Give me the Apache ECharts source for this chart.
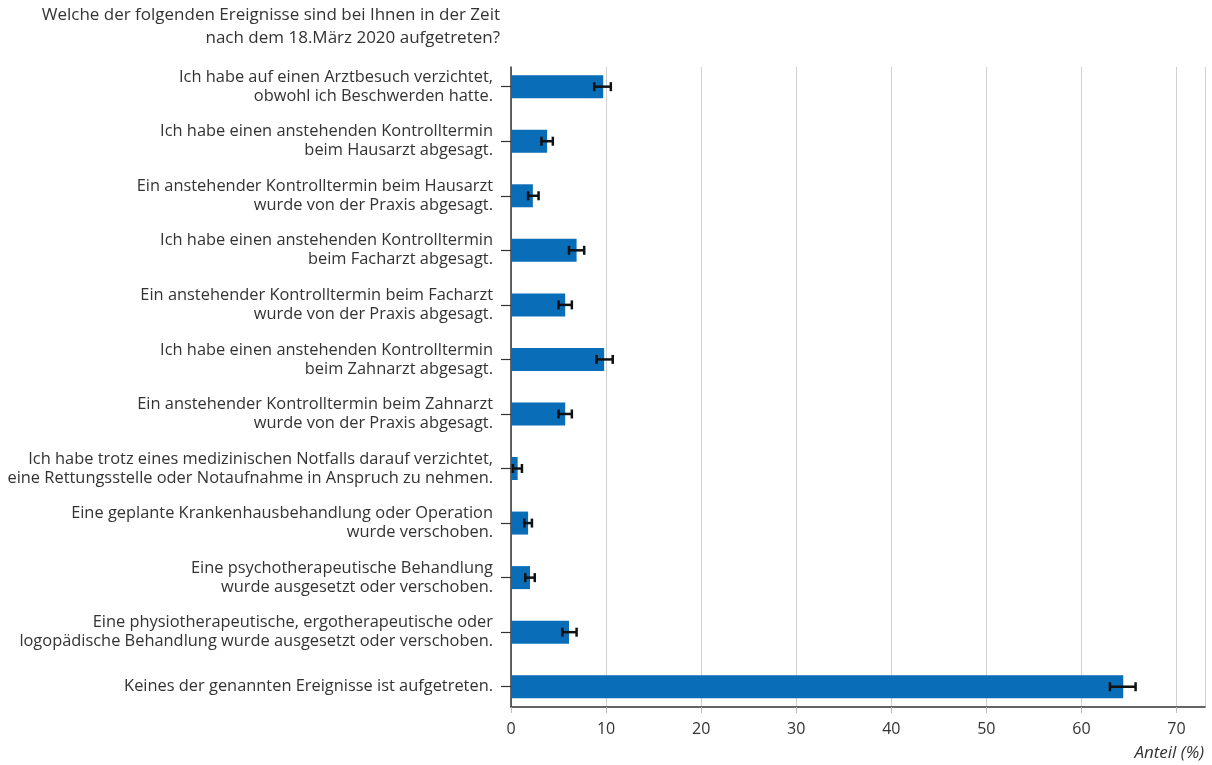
<!DOCTYPE html>
<html>
<head>
<meta charset="utf-8">
<script src="https://cdn.jsdelivr.net/npm/echarts@6/dist/echarts.min.js"></script>
<style>
  html, body { margin: 0; padding: 0; background: #fff; }
  #chart { width: 1212px; height: 765px; }
</style>
</head>
<body>
<div id="chart"></div>
<script>
// Kategorien (von oben nach unten)
const categories = [
  'Ich habe auf einen Arztbesuch verzichtet,\nobwohl ich Beschwerden hatte.',
  'Ich habe einen anstehenden Kontrolltermin\nbeim Hausarzt abgesagt.',
  'Ein anstehender Kontrolltermin beim Hausarzt\nwurde von der Praxis abgesagt.',
  'Ich habe einen anstehenden Kontrolltermin\nbeim Facharzt abgesagt.',
  'Ein anstehender Kontrolltermin beim Facharzt\nwurde von der Praxis abgesagt.',
  'Ich habe einen anstehenden Kontrolltermin\nbeim Zahnarzt abgesagt.',
  'Ein anstehender Kontrolltermin beim Zahnarzt\nwurde von der Praxis abgesagt.',
  'Ich habe trotz eines medizinischen Notfalls darauf verzichtet,\neine Rettungsstelle oder Notaufnahme in Anspruch zu nehmen.',
  'Eine geplante Krankenhausbehandlung oder Operation\nwurde verschoben.',
  'Eine psychotherapeutische Behandlung\nwurde ausgesetzt oder verschoben.',
  'Eine physiotherapeutische, ergotherapeutische oder\nlogopädische Behandlung wurde ausgesetzt oder verschoben.',
  'Keines der genannten Ereignisse ist aufgetreten.'
]

// Anteil in %
const values = [9.7, 3.8, 2.3, 6.9, 5.7, 9.8, 5.7, 0.7, 1.8, 2.0, 6.1, 64.4]
// untere / obere Grenze der Fehlerbalken
const errLow = [8.75, 3.2, 1.8, 6.1, 5.0, 9.0, 5.0, 0.2, 1.4, 1.5, 5.4, 63.0]
const errHigh = [10.5, 4.4, 2.9, 7.7, 6.4, 10.7, 6.4, 1.15, 2.2, 2.5, 6.9, 65.7]

const xTicks = [0, 10, 20, 30, 40, 50, 60, 70]

const chart = echarts.init(document.getElementById('chart'))

const textColor = '#333'
const fontFamily = '"Open Sans", "Noto Sans", sans-serif'

const option = {
  backgroundColor: '#fff',
  animation: false,
  graphic: [
    {
      type: 'text',
      x: 500,
      y: 7,
      style: {
        text: 'Welche der folgenden Ereignisse sind bei Ihnen in der Zeit',
        align: 'right',
        fill: textColor,
        font: '17px ' + fontFamily
      }
    },
    {
      type: 'text',
      x: 500,
      y: 30,
      style: {
        text: 'nach dem 18.März 2020 aufgetreten?',
        align: 'right',
        fill: textColor,
        font: '17px ' + fontFamily
      }
    },
    {
      type: 'text',
      x: 1204,
      y: 745,
      style: {
        text: 'Anteil (%)',
        align: 'right',
        fill: textColor,
        font: 'italic 17px ' + fontFamily
      }
    }
  ],
  grid: [
    // Balken
    { left: 511, width: 694, top: 59.4, bottom: 51 },
    // Gitter + Achsen
    { left: 511, width: 694, top: 67, bottom: 58 }
  ],
  xAxis: [
    { gridIndex: 0, type: 'value', min: 0, max: 73, show: false },
    {
      gridIndex: 1,
      type: 'value',
      min: 0,
      max: 73,
      interval: 10,
      axisLine: { show: true, lineStyle: { color: '#333', width: 1.5 } },
      axisTick: { show: true, length: 6, lineStyle: { color: '#bbb' } },
      splitLine: {
        show: true,
        lineStyle: { color: '#d0d0d0', width: 1 }
      },
      axisLabel: {
        color: textColor,
        fontSize: 16,
        fontFamily: fontFamily,
        margin: 14,
        showMaxLabel: false,
        formatter: v => (xTicks.includes(v) ? String(v) : '')
      }
    }
  ],
  yAxis: [
    {
      gridIndex: 0,
      type: 'category',
      data: categories,
      inverse: true,
      axisLine: { show: false },
      axisTick: {
        show: true,
        alignWithLabel: true,
        length: 10,
        lineStyle: { color: '#333', width: 1.2 }
      },
      axisLabel: {
        color: textColor,
        fontSize: 16.4,
        fontFamily: fontFamily,
        lineHeight: 19,
        margin: 18,
        align: 'right'
      },
      splitLine: { show: false }
    },
    {
      gridIndex: 1,
      type: 'value',
      axisLine: { show: true, onZero: false, lineStyle: { color: '#333', width: 1.5 } },
      axisTick: { show: false },
      axisLabel: { show: false },
      splitLine: { show: false }
    }
  ],
  series: [
    {
      type: 'bar',
      xAxisIndex: 0,
      yAxisIndex: 0,
      data: values,
      barWidth: 23,
      itemStyle: { color: '#0a6db8' },
      z: 2
    },
    {
      type: 'custom',
      xAxisIndex: 0,
      yAxisIndex: 0,
      z: 3,
      data: values.map((v, i) => [i, errLow[i], errHigh[i]]),
      renderItem: (params, api) => {
        const idx = api.value(0)
        const lo = api.coord([api.value(1), idx])
        const hi = api.coord([api.value(2), idx])
        const h = 4.5
        const style = { stroke: '#111', lineWidth: 2.5 }
        return {
          type: 'group',
          children: [
            { type: 'line', shape: { x1: lo[0], y1: lo[1], x2: hi[0], y2: hi[1] }, style },
            { type: 'line', shape: { x1: lo[0], y1: lo[1] - h, x2: lo[0], y2: lo[1] + h }, style },
            { type: 'line', shape: { x1: hi[0], y1: hi[1] - h, x2: hi[0], y2: hi[1] + h }, style }
          ]
        }
      }
    }
  ]
}

chart.setOption(option)
</script>
</body>
</html>
